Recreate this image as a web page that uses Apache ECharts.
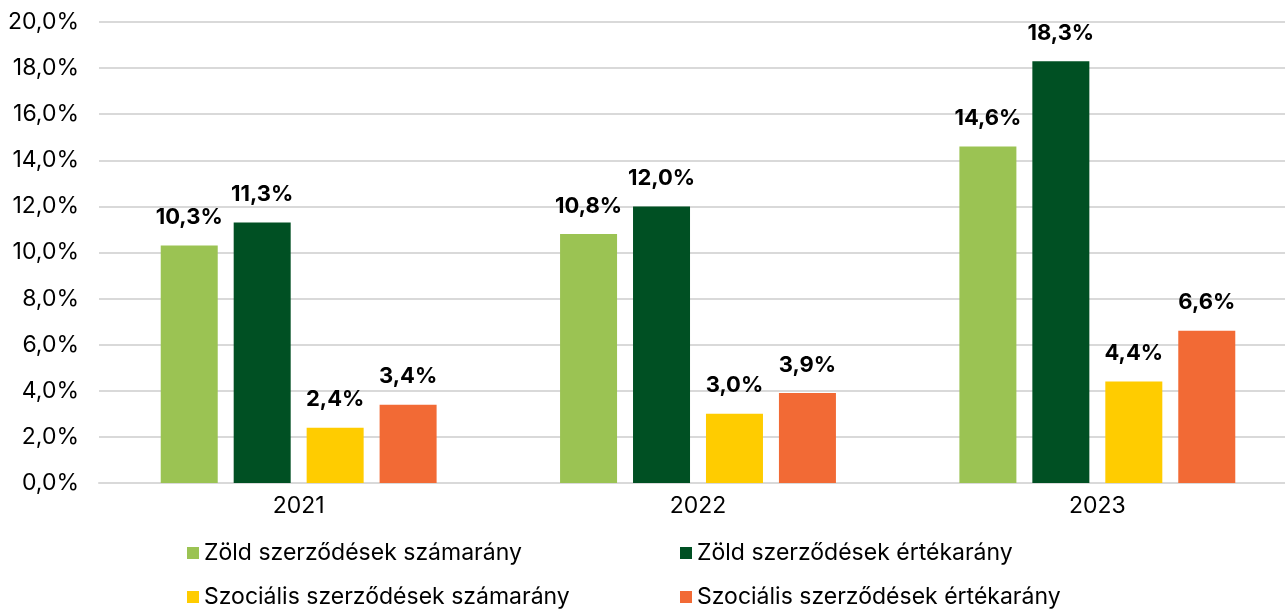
<!DOCTYPE html>
<html>
<head>
<meta charset="utf-8">
<script src="https://cdn.jsdelivr.net/npm/echarts@6/dist/echarts.min.js"></script>
<style>
html,body{margin:0;padding:0;background:#fff;overflow:hidden;}
#chart{width:1297px;height:609px;}
</style>
</head>
<body>
<div id="chart"></div>
<script>
// adatok
var years = ['2021', '2022', '2023'];
var zoldSzam = [10.3, 10.8, 14.6];
var zoldErtek = [11.3, 12.0, 18.3];
var szocSzam = [2.4, 3.0, 4.4];
var szocErtek = [3.4, 3.9, 6.6];
var seriesNames = ['Zöld szerződések számarány', 'Zöld szerződések értékarány',
    'Szociális szerződések számarány', 'Szociális szerződések értékarány'];
var colors = ['#9bc353', '#005023', '#ffcc00', '#f26a35'];

var font = 'Inter, "Noto Sans", sans-serif';
function pct(v) {
    return v.toFixed(1).replace('.', ',') + '%';
}

function bar(name, data, color) {
    return {
        name: name,
        type: 'bar',
        data: data,
        barWidth: 57,
        barGap: '28%',
        itemStyle: {color: color},
        label: {
            show: true,
            position: 'top',
            distance: 17,
            fontFamily: font,
            fontSize: 22,
            fontWeight: 'bold',
            color: '#000',
            formatter: function (p) { return pct(p.value); }
        }
    };
}

function legendCol(items, left) {
    return {
        data: items,
        orient: 'vertical',
        left: left,
        top: 540,
        height: 100,
        padding: 0,
        itemWidth: 12,
        itemHeight: 12,
        itemGap: 18,
        icon: 'rect',
        textStyle: {fontFamily: font, fontSize: 23, color: '#000', lineHeight: 26}
    };
}

var chart = echarts.init(document.getElementById('chart'));
chart.setOption({
    animation: false,
    textStyle: {fontFamily: font},
    grid: {left: 99, right: 0, top: 22, bottom: 126, containLabel: false},
    legend: [
        legendCol([seriesNames[0], seriesNames[2]], 187),
        legendCol([seriesNames[1], seriesNames[3]], 680)
    ],
    xAxis: {
        type: 'category',
        data: years,
        axisTick: {show: false},
        axisLine: {lineStyle: {color: '#d9d9d9', width: 2}},
        axisLabel: {fontFamily: font, fontSize: 23, color: '#000', margin: 12}
    },
    yAxis: {
        type: 'value',
        min: 0,
        max: 20,
        interval: 2,
        axisLine: {show: false},
        axisTick: {show: false},
        splitLine: {lineStyle: {color: '#d9d9d9', width: 2}},
        axisLabel: {
            fontFamily: font, fontSize: 23, color: '#000', margin: 20,
            formatter: function (v) { return pct(v); }
        }
    },
    series: [
        bar(seriesNames[0], zoldSzam, colors[0]),
        bar(seriesNames[1], zoldErtek, colors[1]),
        bar(seriesNames[2], szocSzam, colors[2]),
        bar(seriesNames[3], szocErtek, colors[3])
    ]
});
</script>
</body>
</html>
